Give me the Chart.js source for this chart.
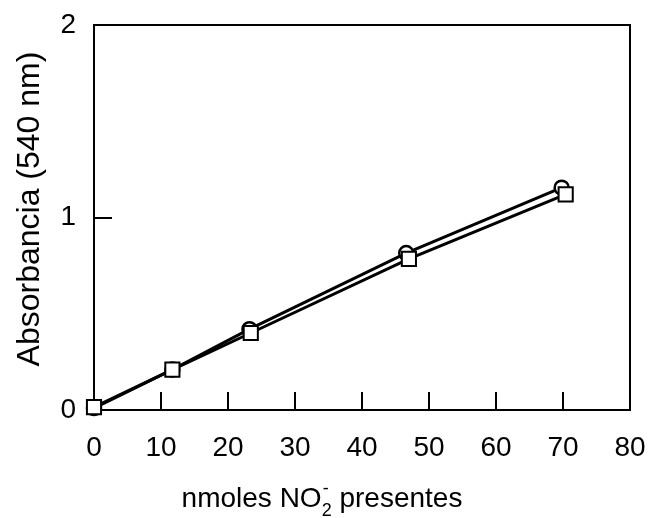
<!DOCTYPE html>
<html>
<head>
<meta charset="utf-8">
<script src="https://cdn.jsdelivr.net/npm/chart.js@4.4.1/dist/chart.umd.min.js"></script>
<style>
  html, body { margin: 0; padding: 0; background: #fff; }
</style>
</head>
<body>
<canvas id="calib" width="650" height="518"></canvas>
<script>
// nitrite calibration: two replicate series (circles / squares)
const nitriteCircles = [0, 11.7, 23.2, 46.6, 69.8];
const absCircles = [0.01, 0.21, 0.42, 0.815, 1.155];
const nitriteSquares = [0, 11.7, 23.4, 47.0, 70.4];
const absSquares = [0.015, 0.21, 0.40, 0.785, 1.12];
const xTickValues = [0, 10, 20, 30, 40, 50, 60, 70, 80];
const yTickValues = [0, 1, 2];

const FONT = "'Liberation Sans', Arial, sans-serif";

function toPoints(xs, ys) {
  return xs.map((x, i) => ({ x: x, y: ys[i] }));
}

// box around the plot + ticks pointing inward
const framePlugin = {
  id: 'frame',
  beforeDatasetsDraw(chart) {
    const { ctx, chartArea: a, scales } = chart;
    ctx.save();
    ctx.strokeStyle = '#000';
    ctx.lineWidth = 2;
    ctx.strokeRect(a.left, a.top, a.right - a.left, a.bottom - a.top);
    ctx.beginPath();
    xTickValues.forEach(v => {
      const px = Math.round(scales.x.getPixelForValue(v));
      ctx.moveTo(px, a.bottom);
      ctx.lineTo(px, a.bottom - 18);
    });
    yTickValues.forEach(v => {
      const py = Math.round(scales.y.getPixelForValue(v));
      ctx.moveTo(a.left, py);
      ctx.lineTo(a.left + 18, py);
    });
    ctx.stroke();
    ctx.restore();
  }
};

// axis titles (x title needs a subscript and a superscript)
const titlesPlugin = {
  id: 'titles',
  afterDraw(chart) {
    const { ctx } = chart;
    ctx.save();
    ctx.fillStyle = '#000';
    ctx.textBaseline = 'alphabetic';

    const main = '28px ' + FONT;
    const small = '18px ' + FONT;
    const parts = [
      { t: 'nmoles NO', f: main, dy: 0 },
      { t: '2', f: small, dy: 9 },
      { t: '-', f: small, dy: -13 },
      { t: ' presentes', f: main, dy: 0 }
    ];
    parts.forEach(p => {
      ctx.font = p.f;
      p.w = ctx.measureText(p.t).width;
    });
    // sub and superscript share the same horizontal slot
    const total = parts[0].w + Math.max(parts[1].w, parts[2].w) + parts[3].w;
    let x = 322 - total / 2;
    const base = 507;
    ctx.textAlign = 'left';
    ctx.font = main; ctx.fillText(parts[0].t, x, base); x += parts[0].w;
    ctx.font = small; ctx.fillText(parts[1].t, x, base + parts[1].dy);
    ctx.fillText(parts[2].t, x + 1, base + parts[2].dy);
    x += Math.max(parts[1].w, parts[2].w);
    ctx.font = main; ctx.fillText(parts[3].t, x, base);

    ctx.translate(30, 209);
    ctx.rotate(-Math.PI / 2);
    ctx.textAlign = 'center';
    ctx.textBaseline = 'middle';
    ctx.font = '32px ' + FONT;
    ctx.fillText('Absorbancia (540 nm)', 0, 0);
    ctx.restore();
  }
};

new Chart(document.getElementById('calib'), {
  type: 'scatter',
  plugins: [framePlugin, titlesPlugin],
  data: {
    datasets: [
      {
        label: 'cuadrados',
        data: toPoints(nitriteSquares, absSquares),
        showLine: true,
        borderColor: '#000',
        borderWidth: 3,
        pointStyle: 'rect',
        pointRadius: 10,
        pointBorderWidth: 2,
        pointBackgroundColor: '#fff',
        pointBorderColor: '#000',
        clip: false
      },
      {
        label: 'circulos',
        data: toPoints(nitriteCircles, absCircles),
        showLine: true,
        borderColor: '#000',
        borderWidth: 3,
        pointStyle: 'circle',
        pointRadius: 7,
        pointBorderWidth: 2.5,
        pointBackgroundColor: '#fff',
        pointBorderColor: '#000',
        clip: false
      }
    ]
  },
  options: {
    responsive: false,
    animation: false,
    layout: { autoPadding: false, padding: { left: 0, top: 25, right: 20, bottom: 0 } },
    plugins: {
      legend: { display: false },
      tooltip: { enabled: false }
    },
    scales: {
      x: {
        type: 'linear',
        min: 0,
        max: 80,
        afterFit: s => {
          s.height = 108;
          s.paddingLeft = 0;
          s.paddingRight = 0;
        },
        afterBuildTicks: s => { s.ticks = xTickValues.map(v => ({ value: v })); },
        grid: { display: false, drawTicks: false },
        border: { display: false },
        ticks: {
          color: '#000',
          padding: 21,
          font: { family: FONT, size: 28 }
        }
      },
      y: {
        type: 'linear',
        min: 0,
        max: 2,
        afterFit: s => {
          s.width = 94;
          s.paddingTop = 0;
          s.paddingBottom = 0;
        },
        afterBuildTicks: s => { s.ticks = yTickValues.map(v => ({ value: v })); },
        grid: { display: false, drawTicks: false },
        border: { display: false },
        ticks: {
          color: '#000',
          padding: 18,
          font: { family: FONT, size: 28 }
        }
      }
    }
  }
});
</script>
</body>
</html>
